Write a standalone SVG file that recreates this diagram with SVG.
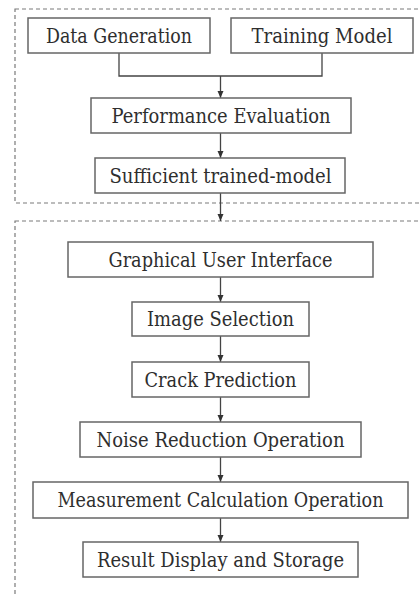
<svg xmlns="http://www.w3.org/2000/svg" width="419" height="595" viewBox="0 0 419 595">
<style>
.bg{fill:#ffffff}
.frame{fill:none;stroke:#7a7a7a;stroke-width:1.2;stroke-dasharray:4 3}
.box{fill:#ffffff;stroke:#666666;stroke-width:1.5}
.lbl{font-family:'DejaVu Serif',serif;font-size:20px;fill:#2e2e2e;text-anchor:middle}
.conn{fill:none;stroke:#444444;stroke-width:1.3}
</style>
<defs>
<marker id="arr" markerUnits="userSpaceOnUse" markerWidth="8" markerHeight="8" viewBox="0 0 8 8" refX="7" refY="4" orient="auto">
<path d="M0,1 L7,4 L0,7 Z" fill="#333333"/>
</marker>
</defs>
<rect class="bg" x="0" y="0" width="419" height="595"/>
<g id="frames">
<rect class="frame" x="15" y="9" width="420" height="194"/>
<rect class="frame" x="15" y="221" width="420" height="400"/>
</g>
<g id="connectors">
<polyline class="conn" points="119,53 119,76 322,76 322,53"/>
<line class="conn" x1="220.5" y1="76" x2="220.5" y2="98" marker-end="url(#arr)"/>
<line class="conn" x1="220.5" y1="133" x2="220.5" y2="158" marker-end="url(#arr)"/>
<line class="conn" x1="220.5" y1="193" x2="220.5" y2="221" marker-end="url(#arr)"/>
<line class="conn" x1="220.5" y1="277" x2="220.5" y2="302" marker-end="url(#arr)"/>
<line class="conn" x1="220.5" y1="336" x2="220.5" y2="362" marker-end="url(#arr)"/>
<line class="conn" x1="220.5" y1="397" x2="220.5" y2="422" marker-end="url(#arr)"/>
<line class="conn" x1="220.5" y1="457" x2="220.5" y2="482" marker-end="url(#arr)"/>
<line class="conn" x1="220.5" y1="518" x2="220.5" y2="542" marker-end="url(#arr)"/>
</g>
<g id="data-generation">
<rect class="box" x="28" y="18" width="182" height="35"/>
<text class="lbl" x="119" y="43" textLength="146" lengthAdjust="spacingAndGlyphs">Data Generation</text>
</g>
<g id="training-model">
<rect class="box" x="231" y="18" width="182" height="35"/>
<text class="lbl" x="322" y="43" textLength="141" lengthAdjust="spacingAndGlyphs">Training Model</text>
</g>
<g id="performance-evaluation">
<rect class="box" x="91" y="98" width="260" height="35"/>
<text class="lbl" x="221" y="123" textLength="219" lengthAdjust="spacingAndGlyphs">Performance Evaluation</text>
</g>
<g id="sufficient-trained-model">
<rect class="box" x="95" y="158" width="250" height="35"/>
<text class="lbl" x="220.5" y="183" textLength="222" lengthAdjust="spacingAndGlyphs">Sufficient trained-model</text>
</g>
<g id="gui">
<rect class="box" x="68" y="242" width="305" height="35"/>
<text class="lbl" x="220.5" y="267" textLength="224" lengthAdjust="spacingAndGlyphs">Graphical User Interface</text>
</g>
<g id="image-selection">
<rect class="box" x="132" y="302" width="177" height="34"/>
<text class="lbl" x="220.5" y="326" textLength="147" lengthAdjust="spacingAndGlyphs">Image Selection</text>
</g>
<g id="crack-prediction">
<rect class="box" x="132" y="362" width="177" height="35"/>
<text class="lbl" x="220.5" y="387" textLength="152" lengthAdjust="spacingAndGlyphs">Crack Prediction</text>
</g>
<g id="noise-reduction">
<rect class="box" x="80" y="422" width="281" height="35"/>
<text class="lbl" x="220.5" y="447" textLength="248" lengthAdjust="spacingAndGlyphs">Noise Reduction Operation</text>
</g>
<g id="measurement-calculation">
<rect class="box" x="33" y="482" width="375" height="36"/>
<text class="lbl" x="220.5" y="507" textLength="326" lengthAdjust="spacingAndGlyphs">Measurement Calculation Operation</text>
</g>
<g id="result-display">
<rect class="box" x="83" y="542" width="275" height="35"/>
<text class="lbl" x="220.5" y="567" textLength="247" lengthAdjust="spacingAndGlyphs">Result Display and Storage</text>
</g>
</svg>
